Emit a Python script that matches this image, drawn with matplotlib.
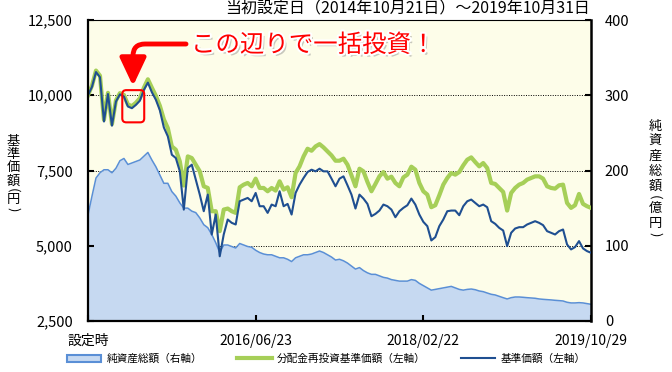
import matplotlib
matplotlib.use("Agg")
import matplotlib.pyplot as plt
import matplotlib.dates as mdates
import matplotlib.patheffects as pe
from matplotlib.patches import FancyBboxPatch, Patch
from matplotlib.lines import Line2D
from matplotlib.transforms import IdentityTransform
import pandas as pd

plt.rcParams["font.family"] = ["Noto Sans CJK JP", "DejaVu Sans"]

# ── Data ─────────────────────────────────────────────────────────────────────
START, END = "2014-10-21", "2019-10-29"

# 基準価額 (円, left axis)
nav = [
    10000, 10280, 10770, 10600, 9128, 10040, 8990, 9790, 10030, 9956,
    9625, 9570, 9680, 9820, 10180, 10420, 10100, 9850, 9500, 8930,
    8631, 8024, 7914, 7472, 6200, 7582, 7693, 7196, 6699, 6147,
    6699, 5374, 6037, 4650, 5374, 5871, 5761, 5706, 6478, 6534,
    6589, 6478, 6754, 6313, 6313, 6092, 6368, 6313, 6810, 6313,
    6390, 6037, 6754, 7030, 7251, 7450, 7527, 7472, 7560, 7472,
    7472, 7229, 6975, 7229, 7306, 7008, 6699, 6236, 6699, 6567,
    6390, 5981, 6059, 6169, 6368, 6313, 6202, 5948, 6147, 6258,
    6346, 6567, 6368, 6037, 5794, 5651, 5176, 5286, 5651, 5871,
    6147, 6169, 6169, 6015, 6313, 6478, 6534, 6423, 6313, 6368,
    6280, 5816, 5728, 5595, 5507, 4988, 5430, 5573, 5617, 5617,
    5706, 5761, 5816, 5761, 5684, 5485, 5430, 5374, 5485, 5540,
    5043, 4878, 4955, 5154, 4911, 4822, 4767,
]

# 分配金再投資基準価額 (円, left axis)
nav_reinvest = [
    10000, 10320, 10820, 10650, 9183, 10080, 9040, 9830, 10070, 10010,
    9690, 9640, 9750, 9900, 10250, 10530, 10250, 9980, 9650, 9200,
    8907, 8300, 8190, 7803, 7000, 7969, 7914, 7693, 7472, 6975,
    6920, 6147, 6147, 5485, 6202, 6236, 6147, 6092, 6942, 7030,
    7086, 6975, 7229, 6920, 6920, 6810, 6920, 6832, 7141, 6865,
    6942, 6611, 7417, 7638, 7969, 8223, 8156, 8300, 8377, 8267,
    8134, 8002, 7825, 7825, 7892, 7693, 7340, 6975, 7560, 7472,
    7119, 6810, 7053, 7306, 7450, 7229, 7295, 7086, 6975, 7273,
    7362, 7627, 7527, 7086, 6810, 6699, 6280, 6346, 6677, 7030,
    7251, 7417, 7362, 7450, 7671, 7858, 7936, 7781, 7638, 7748,
    7582, 7086, 7053, 6920, 6788, 6169, 6754, 6920, 7030, 7086,
    7196, 7251, 7306, 7306, 7229, 6975, 6920, 6898, 7008, 7030,
    6423, 6258, 6346, 6721, 6390, 6313, 6258,
]

# 純資産総額 (億円, right axis)
net_assets = [
    141, 166, 190, 197, 201, 201, 197, 203, 213, 216,
    208, 210, 212, 214, 219, 224, 214, 205, 194, 183,
    183, 172, 166, 157, 150, 150, 146, 144, 137, 128,
    124, 115, 104, 91, 101, 101, 99, 97, 103, 101,
    99, 98, 94, 91, 89, 88, 88, 86, 84, 84,
    82, 79, 84, 86, 88, 88, 89, 91, 93, 91,
    88, 85, 81, 82, 80, 77, 73, 69, 71, 67,
    64, 62, 62, 60, 58, 57, 55, 54, 53, 53,
    53, 55, 54, 50, 47, 44, 41, 42, 43, 44,
    45, 46, 44, 42, 41, 42, 42.5, 41.6, 39.9, 39,
    37.2, 35.5, 34.6, 32.8, 31, 29.3, 31, 31.9, 31.9, 31.5,
    31, 30.6, 30.2, 29.3, 28.8, 28.4, 28, 27.5, 27.1, 26.6,
    24.9, 24, 24, 24.4, 24, 23.1, 22.2,
]

dates = pd.date_range(START, END, periods=len(nav))

x_ticks = ["2014-10-21", "2016-06-23", "2018-02-22", "2019-10-29"]
x_ticklabels = ["設定時", "2016/06/23", "2018/02/22", "2019/10/29"]
left_ticks = [2500, 5000, 7500, 10000, 12500]
right_ticks = [0, 100, 200, 300, 400]

# ── Style ────────────────────────────────────────────────────────────────────
CREAM = "#fdfde9"
AREA_FILL = "#c6d9f1"
AREA_EDGE = "#5a8fd6"
GREEN = "#a6cf58"
BLUE = "#1f4f91"
RED = "#ff0000"

W, H = 672, 372


def px(x, y):
    """pixel position (from top-left) -> figure fraction"""
    return x / W, 1 - y / H


def vertical_label(x, chars, ys, size):
    # stacked vertical text; brackets turned on their side like 縦書き
    for ch, y in zip(chars, ys):
        rot = -90 if ch in "()" else 0
        fig.text(*px(x, y), ch, ha="center", va="center", fontsize=size,
                 rotation=rot, rotation_mode="anchor")


fig = plt.figure(figsize=(W / 100, H / 100), dpi=100)
ax = fig.add_axes([88 / W, 1 - 321 / H, 503 / W, 301 / H])
ax2 = ax.twinx()
ax.set_zorder(ax2.get_zorder() + 1)
ax.patch.set_visible(False)
ax2.patch.set_visible(True)
ax2.set_facecolor(CREAM)

# right axis: net assets area (grid sits behind it)
ax2.set_axisbelow(True)
ax2.grid(axis="y", color="black", linestyle=(0, (1, 1.5)), linewidth=0.7)
ax2.fill_between(dates, net_assets, 0, color=AREA_FILL, lw=0, zorder=1)
ax2.plot(dates, net_assets, color=AREA_EDGE, lw=1.1, zorder=2)
ax2.set_ylim(0, 400)
ax2.set_yticks(right_ticks)

# left axis: NAV lines
ax.plot(dates, nav_reinvest, color=GREEN, lw=3.0, solid_joinstyle="round")
ax.plot(dates, nav, color=BLUE, lw=1.5, solid_joinstyle="round")
ax.set_ylim(2500, 12500)
ax.set_yticks(left_ticks)
ax.set_yticklabels([f"{v:,}" for v in left_ticks])
ax.set_xlim(dates[0], dates[-1])
ax.set_xticks(pd.to_datetime(x_ticks))
ax.set_xticklabels(x_ticklabels)

ax.tick_params(axis="y", direction="in", length=4, width=1.5, labelsize=10.5, pad=11)
ax.tick_params(axis="x", direction="in", length=4, width=1.5, labelsize=10, pad=9)
ax2.tick_params(axis="y", direction="in", length=4, width=1.5, labelsize=10.5, pad=10)

for s in ["left", "bottom"]:
    ax.spines[s].set_linewidth(1.6)
ax.spines["top"].set_linewidth(0.8)
ax.spines["right"].set_visible(False)
for s in ["left", "bottom", "top"]:
    ax2.spines[s].set_visible(False)
ax2.spines["right"].set_linewidth(1.8)

# vertical axis titles
vertical_label(13, "基準価額(円)", [141, 154, 167, 181, 190, 200, 209], 9.5)
vertical_label(655, "純資産総額(億円)", [126, 141, 156, 171, 186, 197, 208, 223, 234], 9.5)

fig.text(*px(590, 9), "当初設定日（2014年10月21日）～2019年10月31日",
         ha="right", va="center", fontsize=11.5)

# ── Annotation: red box + arrow + callout ────────────────────────────────────
box_x = ["2015-02-23", "2015-05-14"]
box_y = [9100, 10170]
fig.canvas.draw()
p0 = ax.transData.transform((mdates.date2num(pd.Timestamp(box_x[0])), box_y[0]))
p1 = ax.transData.transform((mdates.date2num(pd.Timestamp(box_x[1])), box_y[1]))
box = FancyBboxPatch((p0[0], p0[1]), p1[0] - p0[0], p1[1] - p0[1],
                     boxstyle="round,pad=0,rounding_size=4",
                     fc="none", ec=RED, lw=1.5, transform=IdentityTransform(),
                     zorder=10)
fig.add_artist(box)

ax.annotate("", xy=(133, H - 86), xycoords="figure pixels",
            xytext=(186, H - 44), textcoords="figure pixels",
            arrowprops=dict(arrowstyle="-|>,head_length=0.85,head_width=0.4",
                            connectionstyle="angle,angleA=0,angleB=90,rad=12",
                            color=RED, lw=3.5, mutation_scale=20,
                            shrinkA=0, shrinkB=0))

fig.text(*px(191, 45), "この辺りで一括投資！", color=RED, fontsize=17.6,
         ha="left", va="center",
         path_effects=[pe.SimplePatchShadow(offset=(2, -2), shadow_rgbFace="#888888", alpha=0.45),
                       pe.Stroke(linewidth=3, foreground="white"),
                       pe.Normal()])

# ── Legend ───────────────────────────────────────────────────────────────────
handles = [Patch(facecolor=AREA_FILL, edgecolor=AREA_EDGE, lw=1.5),
           Line2D([], [], color=GREEN, lw=3),
           Line2D([], [], color=BLUE, lw=1.5)]
labels = ["純資産総額（右軸）", "分配金再投資基準価額（左軸）", "基準価額（左軸）"]
fig.legend(handles, labels, loc="center left", bbox_to_anchor=(px(67, 359)),
           ncol=3, frameon=False, fontsize=7.7, handlelength=3.2,
           handleheight=0.7, columnspacing=3.3, handletextpad=0.5,
           borderaxespad=0, borderpad=0)

fig.savefig("out.png", dpi=100)
